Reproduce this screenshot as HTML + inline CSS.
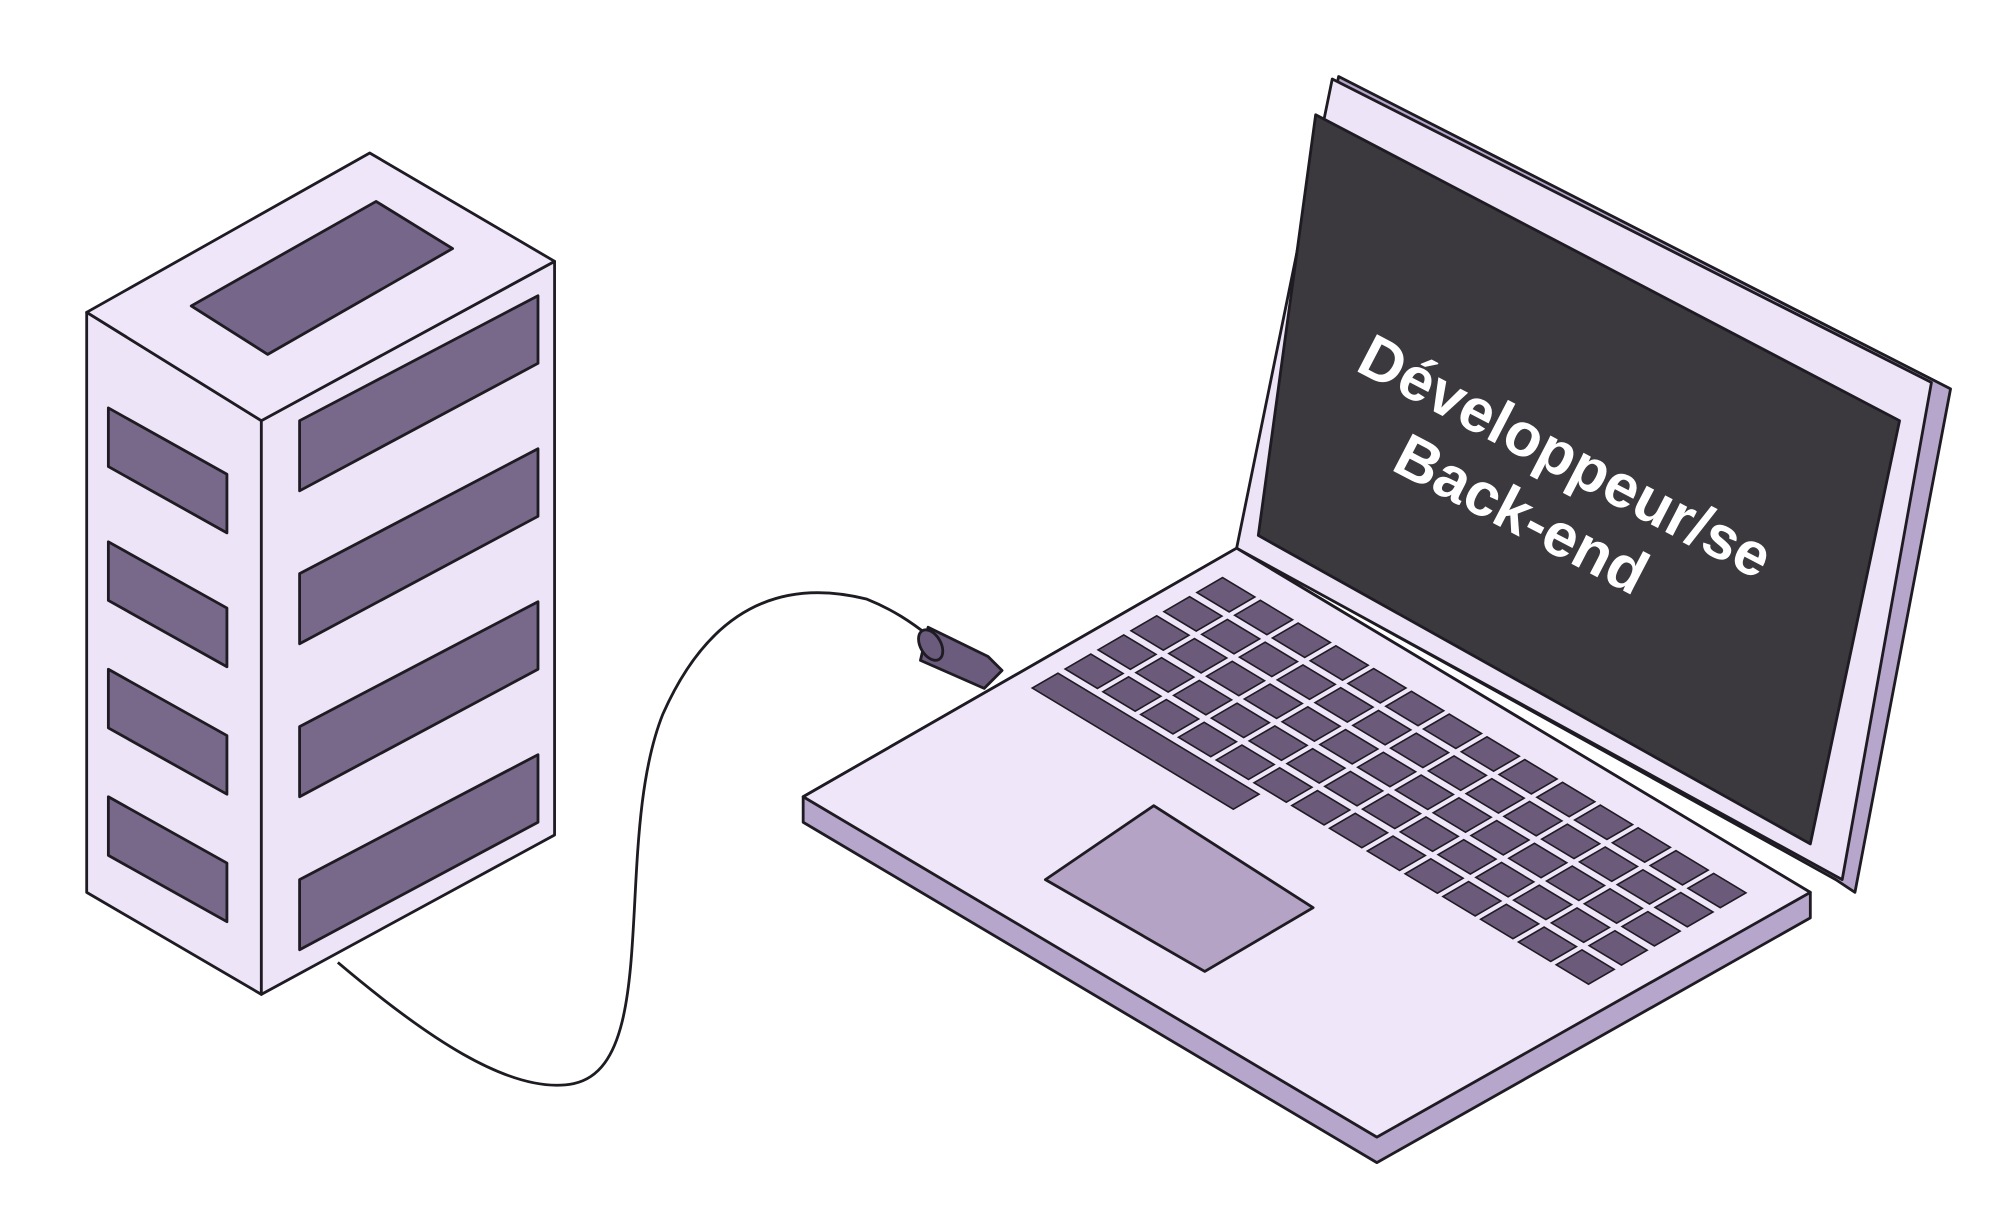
<!DOCTYPE html>
<html><head><meta charset="utf-8"><style>
html,body{margin:0;padding:0;background:#fff;}
svg{display:block;}
</style></head><body>
<svg width="1999" height="1220" viewBox="0 0 1568 957" preserveAspectRatio="none" xmlns="http://www.w3.org/2000/svg" xmlns:xlink="http://www.w3.org/1999/xlink">
<defs>
<rect id="k" x="0.005" y="0.02" width="0.061" height="0.13" fill="#6c5a7a" stroke="#1e1b22" stroke-width="1.6" vector-effect="non-scaling-stroke"/>
<g id="r">
<use xlink:href="#k" x="0"/><use xlink:href="#k" x="0.0714"/><use xlink:href="#k" x="0.1428"/><use xlink:href="#k" x="0.2142"/><use xlink:href="#k" x="0.2856"/><use xlink:href="#k" x="0.357"/><use xlink:href="#k" x="0.4284"/><use xlink:href="#k" x="0.4998"/><use xlink:href="#k" x="0.5712"/><use xlink:href="#k" x="0.6426"/><use xlink:href="#k" x="0.714"/><use xlink:href="#k" x="0.7854"/><use xlink:href="#k" x="0.8568"/><use xlink:href="#k" x="0.9282"/>
</g>
</defs>
<g stroke="#1e1b22" stroke-width="2.2" stroke-linejoin="round">
<!-- server -->
<polygon points="68,245 205,330 205,780 68,700" fill="#ede4f7"/>
<polygon points="205,330 435,205 435,655 205,780" fill="#ede4f7"/>
<polygon points="68,245 290,120 435,205 205,330" fill="#efe7f9"/>
<polygon points="150,240 295,158 355,195 210,278" fill="#76668a"/>
<polygon points="85,320 178,372 178,418 85,366" fill="#78698a"/>
<polygon points="85,425 178,477 178,523 85,471" fill="#78698a"/>
<polygon points="85,525 178,577 178,623 85,571" fill="#78698a"/>
<polygon points="85,625 178,677 178,723 85,671" fill="#78698a"/>
<polygon points="235,330 422,232 422,285 235,385" fill="#78698a"/>
<polygon points="235,450 422,352 422,405 235,505" fill="#78698a"/>
<polygon points="235,570 422,472 422,525 235,625" fill="#78698a"/>
<polygon points="235,690 422,592 422,645 235,745" fill="#78698a"/>
<!-- cable -->
<path d="M265,755 C330,810 400,860 450,850 C520,835 480,660 520,560 C560,470 620,455 680,470 C700,478 715,488 730,500" fill="none" stroke-width="2.2"/>
<polygon points="728,492 775,515 786,526 772,540 722,518" fill="#6b5b7c"/>
<ellipse cx="730" cy="506" rx="8" ry="13" transform="rotate(-30 730 506)" fill="#6b5b7c"/>
<!-- laptop lid -->
<polygon points="1050,60 1530,305 1455,700 1440,690 975,432" fill="#b7a6cb"/>
<polygon points="1045,62 1515,300 1445,690 970,430" fill="#ede4f7"/>
<polygon points="1032,90 1490,330 1420,662 987,420" fill="#3b383e"/>
<!-- base -->
<polygon points="630,625 970,430 1420,700 1420,720 1080,912 630,645" fill="#b7a6cb"/>
<polygon points="630,625 970,430 1420,700 1080,892" fill="#efe7f9"/>
<polygon points="820,690 905,632 1030,712 945,762" fill="#b5a3c6"/>
</g>
<!-- keyboard -->
<g transform="matrix(415,250,-155,90,960,450)">
<use xlink:href="#r" y="0"/>
<use xlink:href="#r" y="0.1667"/>
<use xlink:href="#r" y="0.3333"/>
<use xlink:href="#r" y="0.5"/>
<use xlink:href="#r" y="0.6667"/>
<rect x="0.005" y="0.853" width="0.38" height="0.13" fill="#6c5a7a" stroke="#1e1b22" stroke-width="1.6" vector-effect="non-scaling-stroke"/>
</g>
<text transform="translate(1062,290) rotate(27.5)" font-family="Liberation Sans, sans-serif" font-weight="bold" font-size="48" fill="#fff">Développeur/se</text>
<text transform="translate(1090,368) rotate(27.5)" font-family="Liberation Sans, sans-serif" font-weight="bold" font-size="48" fill="#fff">Back-end</text>
</svg>
</body></html>
